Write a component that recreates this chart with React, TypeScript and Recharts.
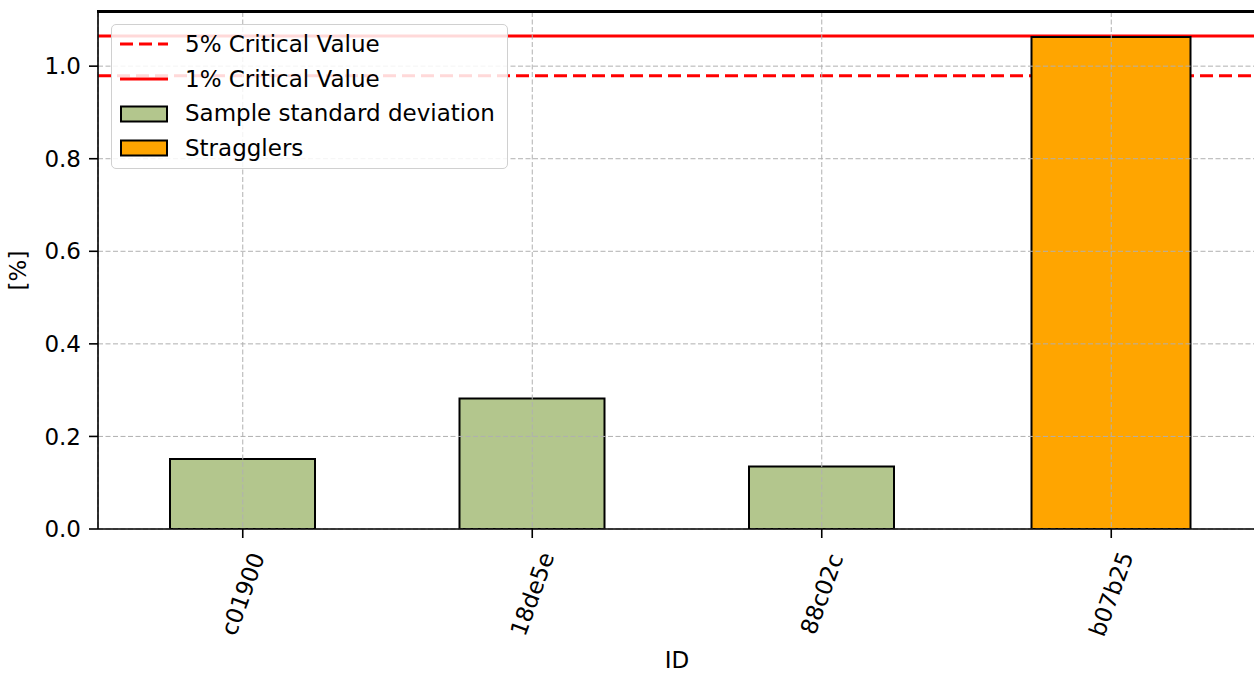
import React from 'react';
import {
  BarChart, Bar, XAxis, YAxis, CartesianGrid, ReferenceLine, Legend,
} from 'recharts';

// values
const ids = ['c01900', '18de5e', '88c02c', 'b07b25'];
const stdValues: (number | null)[] = [0.151, 0.282, 0.135, null];
const stragglerValues: (number | null)[] = [null, null, null, 1.063];
const crit5 = 0.979;
const crit1 = 1.065;
const yTicks = [0, 0.2, 0.4, 0.6, 0.8, 1.0];
const yMax = 1.117;

const FONT = '"DejaVu Sans", sans-serif';
const FS = 23;
const GREEN = '#b3c68d';
const ORANGE = '#ffa500';

const chartData = ids.map((id, i) => ({
  id,
  std: stdValues[i],
  straggler: stragglerValues[i],
}));

const legendItems = [
  { label: '5% Critical Value', kind: 'dash', color: 'red' },
  { label: '1% Critical Value', kind: 'line', color: 'red' },
  { label: 'Sample standard deviation', kind: 'patch', color: GREEN },
  { label: 'Stragglers', kind: 'patch', color: ORANGE },
];

function LegendBox() {
  return (
    <div style={{
      border: '1.3px solid #d0d0d0', borderRadius: 5,
      background: 'rgba(255,255,255,0.85)',
      padding: '2px 12px 2px 8px', fontFamily: FONT, fontSize: FS, color: '#000',
    }}>
      {legendItems.map((it) => (
        <div key={it.label} style={{ display: 'flex', alignItems: 'center', height: 34.7 }}>
          <svg width={48} height={20} style={{ marginRight: 17 }}>
            {it.kind === 'patch' ? (
              <rect x={1} y={2.5} width={46} height={15} fill={it.color} stroke="#000" strokeWidth={2} />
            ) : (
              <line x1={0} x2={48} y1={10} y2={10} stroke={it.color} strokeWidth={3}
                strokeDasharray={it.kind === 'dash' ? '13 6' : undefined} />
            )}
          </svg>
          <span style={{ whiteSpace: 'nowrap', lineHeight: 1 }}>{it.label}</span>
        </div>
      ))}
    </div>
  );
}

const RotatedTick = (props: any) => {
  const { x, y, payload } = props;
  return (
    <text
      transform={`translate(${x},${y + 56}) rotate(-70)`}
      textAnchor="middle" dominantBaseline="central"
      fontFamily={FONT} fontSize={FS} fill="#000"
    >
      {payload.value}
    </text>
  );
};

export default function App() {
  return (
    <div style={{
      position: 'absolute', left: 0, top: 0, width: 1254, height: 673,
      overflow: 'hidden', background: '#fff',
    }}>
      <BarChart
        width={1256} height={673} data={chartData}
        margin={{ top: 11, right: 0, bottom: 0, left: 0 }}
        barCategoryGap={0}
      >
        <XAxis
          xAxisId="bottom" dataKey="id" type="category" height={144}
          axisLine={{ stroke: '#000', strokeWidth: 1.6 }}
          tickLine={{ stroke: '#000', strokeWidth: 1.6 }}
          tickSize={9} tickMargin={0} interval={0}
          tick={<RotatedTick />}
          label={({ viewBox }: any) => (
            <text x={viewBox.x + viewBox.width / 2} y={viewBox.y + 131}
              textAnchor="middle" dominantBaseline="central"
              fontFamily={FONT} fontSize={FS} fill="#000">ID</text>
          )}
        />
        {/* second category axis so the straggler bar can have its own width */}
        <XAxis
          xAxisId="top" dataKey="id" type="category" orientation="top" height={1}
          axisLine={false} tick={false} tickLine={false}
        />
        <YAxis
          width={98} domain={[0, yMax]} ticks={yTicks} type="number"
          allowDataOverflow
          tickFormatter={(v: number) => v.toFixed(1)}
          axisLine={{ stroke: '#000', strokeWidth: 1.6 }}
          tickLine={{ stroke: '#000', strokeWidth: 1.6 }}
          tickSize={9} tickMargin={8}
          tick={{ fill: '#000', fontSize: FS, fontFamily: FONT }}
          label={({ viewBox }: any) => (
            <text x={viewBox.x + 18} y={viewBox.y + viewBox.height / 2}
              transform={`rotate(-90, ${viewBox.x + 18}, ${viewBox.y + viewBox.height / 2})`}
              textAnchor="middle" dominantBaseline="central"
              fontFamily={FONT} fontSize={FS} fill="#000">[%]</text>
          )}
        />
        <ReferenceLine xAxisId="bottom" y={crit5} stroke="red" strokeWidth={3}
          strokeDasharray="13 6" zIndex={250} />
        <ReferenceLine xAxisId="bottom" y={crit1} stroke="red" strokeWidth={3} zIndex={250} />
        <Bar xAxisId="bottom" dataKey="std" barSize={145} fill={GREEN}
          stroke="#000" strokeWidth={2} isAnimationActive={false} />
        <Bar xAxisId="top" dataKey="straggler" barSize={159} fill={ORANGE}
          stroke="#000" strokeWidth={2} isAnimationActive={false} />
        <CartesianGrid xAxisId="bottom" stroke="#b0b0b0" strokeWidth={1}
          strokeDasharray="5 2.5" zIndex={350} />
        <Legend
          layout="vertical" align="center" verticalAlign="middle"
          wrapperStyle={{ left: 111, top: 24, width: 'auto' }}
          content={() => <LegendBox />}
        />
      </BarChart>
      {/* top spine of the axes frame */}
      <div style={{
        position: 'absolute', left: 97, top: 10, width: 1160, height: 0,
        borderTop: '3px solid #000', pointerEvents: 'none', zIndex: 10,
      }} />
    </div>
  );
}
